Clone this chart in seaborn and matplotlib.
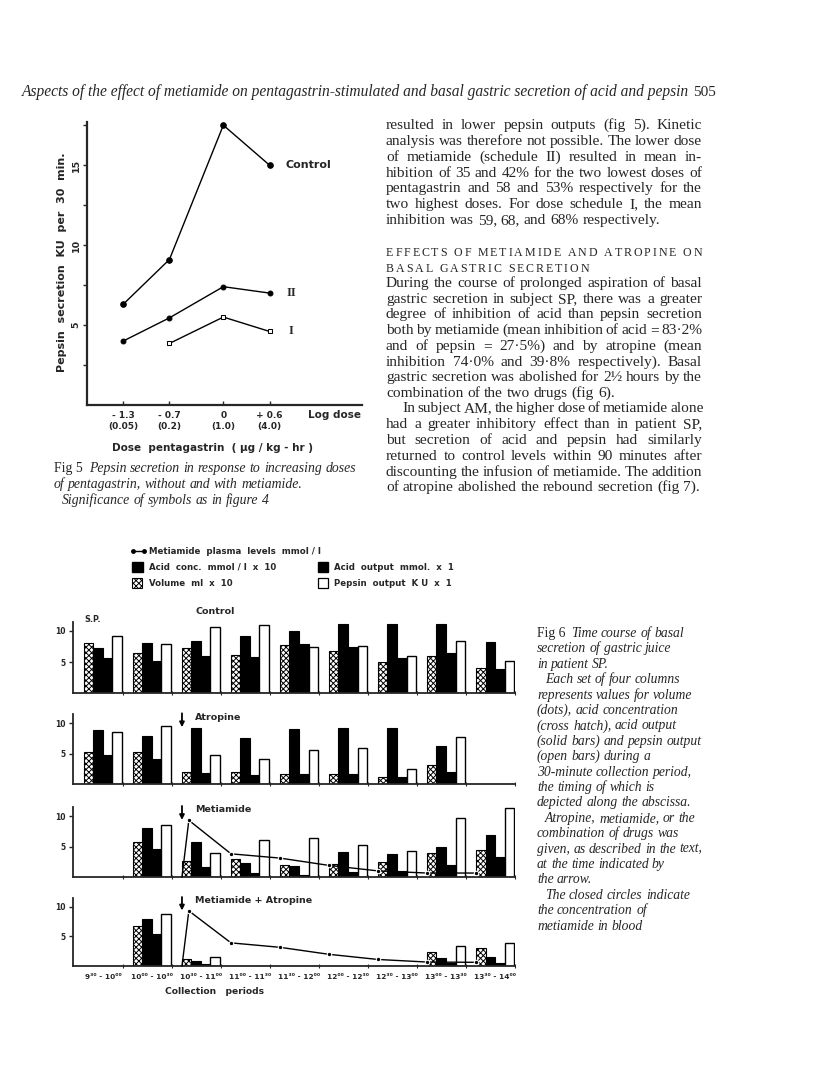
import numpy as np
import matplotlib
matplotlib.use("Agg")
import matplotlib.pyplot as plt
import seaborn as sns
from matplotlib.patches import Rectangle

sns.set_style("ticks")
plt.rcParams["font.family"] = ["DejaVu Sans"]
plt.rcParams["hatch.linewidth"] = 0.7

# ---------------- Fig 5 data ----------------
log_dose = [-1.3, -0.7, 0.0, 0.6]
dose_labels = ["- 1.3\n(0.05)", "- 0.7\n(0.2)", "0\n(1.0)", "+ 0.6\n(4.0)"]
pepsin_control = [6.3, 9.1, 17.5, 15.0]
pepsin_II = [4.0, 5.45, 7.4, 7.0]
log_dose_I = [-0.7, 0.0, 0.6]
pepsin_I = [3.85, 5.5, 4.6]

# ---------------- Fig 6 data ----------------
periods = ["9³⁰ - 10⁰⁰", "10⁰⁰ - 10³⁰", "10³⁰ - 11⁰⁰", "11⁰⁰ - 11³⁰", "11³⁰ - 12⁰⁰",
           "12⁰⁰ - 12³⁰", "12³⁰ - 13⁰⁰", "13⁰⁰ - 13³⁰", "13³⁰ - 14⁰⁰"]
period_start = [9.5, 10.0, 10.5, 11.0, 11.5, 12.0, 12.5, 13.0, 13.5]
nan = np.nan

ctrl_volume = [8.0, 6.4, 7.2, 6.1, 7.8, 6.8, 5.0, 5.9, 4.1]
ctrl_acid_conc = [7.2, 8.1, 8.4, 9.2, 10.05, 11.2, 11.1, 11.1, 8.3]
ctrl_acid_out = [5.7, 5.2, 6.0, 5.8, 7.9, 7.5, 5.6, 6.5, 3.85]
ctrl_pepsin = [9.25, 7.9, 10.6, 10.9, 7.4, 7.6, 5.9, 8.4, 5.1]

atr_volume = [5.2, 5.3, 1.9, 1.9, 1.65, 1.65, 1.1, 3.1, nan]
atr_acid_conc = [8.9, 7.9, 9.3, 7.5, 9.1, 9.2, 9.2, 6.3, nan]
atr_acid_out = [4.8, 4.2, 1.8, 1.5, 1.6, 1.65, 1.1, 1.9, nan]
atr_pepsin = [8.5, 9.6, 4.8, 4.1, 5.6, 6.0, 2.5, 7.7, nan]

met_volume = [nan, 5.7, 2.7, 2.9, 2.0, 2.1, 2.5, 4.0, 4.5]
met_acid_conc = [nan, 8.0, 5.7, 2.35, 1.8, 4.1, 3.7, 4.9, 6.9]
met_acid_out = [nan, 4.6, 1.6, 0.7, 0.4, 0.9, 1.0, 1.9, 3.2]
met_pepsin = [nan, 8.5, 3.9, 6.0, 6.4, 5.2, 4.3, 9.7, 11.3]

ma_volume = [nan, 6.8, 1.1, 0, 0, 0, 0, 2.4, 3.0]
ma_acid_conc = [nan, 8.0, 0.9, 0, 0, 0, 0, 1.3, 1.45]
ma_acid_out = [nan, 5.4, 0.35, 0, 0, 0, 0, 0.45, 0.45]
ma_pepsin = [nan, 8.7, 1.45, 0, 0, 0, 0, 3.4, 3.9]

plasma_time = [10.5, 10.57, 11.0, 11.5, 12.0, 12.5, 13.0, 13.5]
met_plasma = [0.0, 9.3, 3.8, 3.1, 1.9, 1.0, 0.65, 0.65]
ma_plasma = [0.0, 9.3, 3.9, 3.15, 1.97, 1.1, 0.67, 0.62]

# ---------------- figure ----------------
W, H = 816, 1086
fig = plt.figure(figsize=(W / 100, H / 100), dpi=100)
fig.patch.set_facecolor("white")

ov = fig.add_axes([0, 0, 1, 1])
ov.set_xlim(0, W)
ov.set_ylim(H, 0)
ov.axis("off")


def px_axes(x0, y0, x1, y1):
    a = fig.add_axes([x0 / W, 1 - y1 / H, (x1 - x0) / W, (y1 - y0) / H])
    a.set_facecolor("none")
    return a


renderer = fig.canvas.get_renderer()
SERIF = ["Liberation Serif", "DejaVu Serif"]
SANS = ["DejaVu Sans"]


def width_of(s, **kw):
    t = ov.text(0, 0, s, **kw)
    w = t.get_window_extent(renderer).width
    t.remove()
    return w


def place_line(text, x0, x1, yb, justify=True, **kw):
    words = text.split()
    arts = [ov.text(0, yb, w_, ha="left", va="baseline", **kw) for w_ in words]
    widths = [a.get_window_extent(renderer).width for a in arts]
    sp = width_of("n n", **kw) - width_of("nn", **kw)
    if justify and len(words) > 1:
        gap = max((x1 - x0 - sum(widths)) / (len(words) - 1), sp * 0.6)
    else:
        gap = sp
    x = x0
    for a, w_ in zip(arts, widths):
        a.set_x(x)
        x += w_ + gap


def place_tracked(text, x0, yb, tracking, **kw):
    x = x0
    sp = width_of("N N", **kw) - width_of("NN", **kw)
    for ch in text:
        if ch == " ":
            x += sp + tracking
            continue
        t = ov.text(x, yb, ch, ha="left", va="baseline", **kw)
        x += t.get_window_extent(renderer).width + tracking


# ---------------- header ----------------
hdr_kw = dict(fontsize=11.2, family=SERIF, style="italic")
hdr = "Aspects of the effect of metiamide on pentagastrin-stimulated and basal gastric secretion of acid and pepsin"
wh = width_of(hdr, **hdr_kw)
scale = (688 - 22) / wh
hdr_kw["fontsize"] = 11.2 * scale
ov.text(22, 96, hdr, ha="left", va="baseline", **hdr_kw)
ov.text(693, 96, "505", ha="left", va="baseline", fontsize=11, family=SERIF)

# ---------------- Fig 5 ----------------
ax5 = px_axes(87, 122, 362, 405)
ax5.set_xlim(-1.77, 1.8)
ax5.set_ylim(0, 17.7)
sns.lineplot(x=log_dose, y=pepsin_control, ax=ax5, color="black", lw=1.0,
             marker="o", markersize=4, markeredgecolor="black", markerfacecolor="black")
sns.lineplot(x=log_dose, y=pepsin_II, ax=ax5, color="black", lw=1.0,
             marker="o", markersize=3.5, markeredgecolor="black", markerfacecolor="black")
sns.lineplot(x=log_dose_I, y=pepsin_I, ax=ax5, color="black", lw=1.0,
             marker="s", markersize=3.5, markeredgecolor="black", markerfacecolor="white")
for s in ["top", "right"]:
    ax5.spines[s].set_visible(False)
for s in ["left", "bottom"]:
    ax5.spines[s].set_linewidth(1.6)
yt = np.arange(2.5, 17.6, 2.5)
ax5.set_yticks(yt)
ax5.set_yticklabels([f"{v:g}" if v % 5 == 0 else "" for v in yt],
                    rotation=90, va="center", fontsize=6.8, fontweight="bold")
ax5.set_xticks(log_dose)
ax5.set_xticklabels(dose_labels, fontsize=6.5, fontweight="bold", linespacing=1.4)
ax5.tick_params(axis="both", length=3, width=1, pad=1.5)
ax5.tick_params(axis="x", direction="in", pad=4)
ov.text(308, 415, "Log dose", ha="left", va="center", fontsize=7.5, fontweight="bold")
ov.text(213, 448, "Dose  pentagastrin  ( μg / kg - hr )", ha="center", va="center",
        fontsize=7.5, fontweight="bold")
ov.text(62, 262, "Pepsin  secretion  KU  per  30  min.", ha="center", va="center",
        rotation=90, fontsize=8.0, fontweight="bold")
ov.text(285, 165, "Control", ha="left", va="center", fontsize=8, fontweight="bold")
ov.text(287, 293, "II", ha="left", va="center", fontsize=9, fontweight="bold", family=SERIF)
ov.text(289, 331, "I", ha="left", va="center", fontsize=9, fontweight="bold", family=SERIF)

cap_kw = dict(fontsize=9.9, family=SERIF, style="italic")
ov.text(54, 472, "Fig 5", ha="left", va="baseline", fontsize=9.9, family=SERIF)
place_line("Pepsin secretion in response to increasing doses", 89, 356, 472, justify=False, **cap_kw)
place_line("of pentagastrin, without and with metiamide.", 54, 356, 488, justify=False, **cap_kw)
place_line("Significance of symbols as in figure 4", 62, 356, 504, justify=False, **cap_kw)

# ---------------- right column text ----------------
body_kw = dict(fontsize=11.1, family=SERIF)
X0, X1 = 386, 702
para1 = ["resulted in lower pepsin outputs (fig 5). Kinetic",
         "analysis was therefore not possible. The lower dose",
         "of metiamide (schedule II) resulted in mean in-",
         "hibition of 35 and 42% for the two lowest doses of",
         "pentagastrin and 58 and 53% respectively for the",
         "two highest doses. For dose schedule I, the mean",
         "inhibition was 59, 68, and 68% respectively."]
y1 = [125, 141, 156.7, 172.7, 188, 204, 220]
for i, (ln, yc) in enumerate(zip(para1, y1)):
    place_line(ln, X0, X1, yc + 4, justify=(i < len(para1) - 1), **body_kw)

head_kw = dict(fontsize=8.6, family=SERIF)
h1 = "EFFECTS OF METIAMIDE AND ATROPINE ON"
nat = sum(width_of(c, **head_kw) for c in h1.replace(" ", ""))
sp = width_of("N N", **head_kw) - width_of("NN", **head_kw)
nat += sp * h1.count(" ")
track = (X1 - X0 - nat) / (len(h1) - 1)
place_tracked(h1, X0, 256.5, track, **head_kw)
place_tracked("BASAL GASTRIC SECRETION", X0, 272, track, **head_kw)

para2 = ["During the course of prolonged aspiration of basal",
         "gastric secretion in subject SP, there was a greater",
         "degree of inhibition of acid than pepsin secretion",
         "both by metiamide (mean inhibition of acid = 83·2%",
         "and of pepsin = 27·5%) and by atropine (mean",
         "inhibition 74·0% and 39·8% respectively). Basal",
         "gastric secretion was abolished for 2½ hours by the",
         "combination of the two drugs (fig 6)."]
y2 = [283, 299, 314, 330, 346, 361.7, 377, 393]
for i, (ln, yc) in enumerate(zip(para2, y2)):
    place_line(ln, X0, X1, yc + 4, justify=(i < len(para2) - 1), **body_kw)

para3 = ["In subject AM, the higher dose of metiamide alone",
         "had a greater inhibitory effect than in patient SP,",
         "but secretion of acid and pepsin had similarly",
         "returned to control levels within 90 minutes after",
         "discounting the infusion of metiamide. The addition",
         "of atropine abolished the rebound secretion (fig 7)."]
y3 = [408, 424, 440, 456, 471.7, 487]
for i, (ln, yc) in enumerate(zip(para3, y3)):
    place_line(ln, X0 + (16 if i == 0 else 0), X1, yc + 4,
               justify=(i < len(para3) - 1), **body_kw)

# ---------------- Fig 6 legend ----------------
lg_kw = dict(fontsize=6.2, fontweight="bold", family=SANS)
ov.plot([133, 144], [551, 551], color="black", lw=1.0)
ov.plot([133, 144], [551, 551], ls="none", marker="o", ms=2.5, color="black")
ov.text(149, 551, "Metiamide  plasma  levels  mmol / l", ha="left", va="center", **lg_kw)
ov.add_patch(Rectangle((132, 562), 11, 10, facecolor="black", edgecolor="black"))
ov.text(149, 567, "Acid  conc.  mmol / l  x  10", ha="left", va="center", **lg_kw)
ov.add_patch(Rectangle((318, 562), 10, 10, facecolor="black", edgecolor="black"))
ov.text(334, 567, "Acid  output  mmol.  x  1", ha="left", va="center", **lg_kw)
ov.add_patch(Rectangle((132, 578), 10, 10, facecolor="white", edgecolor="black",
                       hatch="xxxxxx", lw=0.8))
ov.text(149, 583, "Volume  ml  x  10", ha="left", va="center", **lg_kw)
ov.add_patch(Rectangle((318, 578), 10, 10, facecolor="white", edgecolor="black", lw=0.9))
ov.text(334, 583, "Pepsin  output  K U  x  1", ha="left", va="center", **lg_kw)

# ---------------- Fig 6 panels ----------------
T0, T1 = 9.385, 13.898
XL, XR = 72.7, 515
bw = 0.097
offs = [0.0485 + k * bw for k in range(4)]
styles = [dict(facecolor="white", edgecolor="black", hatch="xxxxxx", lw=0.8),
          dict(facecolor="black", edgecolor="black", lw=0.8),
          dict(facecolor="black", edgecolor="black", lw=0.8),
          dict(facecolor="white", edgecolor="black", lw=1.0)]

panels = [
    (693, 6.2, [ctrl_volume, ctrl_acid_conc, ctrl_acid_out, ctrl_pepsin], None, None),
    (784, 6.07, [atr_volume, atr_acid_conc, atr_acid_out, atr_pepsin], "Atropine", None),
    (877, 6.1, [met_volume, met_acid_conc, met_acid_out, met_pepsin], "Metiamide", met_plasma),
    (966, 5.93, [ma_volume, ma_acid_conc, ma_acid_out, ma_pepsin], "Metiamide + Atropine", ma_plasma),
]
YTOP = 11.5
starts = np.array(period_start)
for pi, (base, ppu, series, label, plasma) in enumerate(panels):
    ax = px_axes(XL, base - YTOP * ppu, XR, base)
    ax.set_xlim(T0, T1)
    ax.set_ylim(0, YTOP)
    for k, vals in enumerate(series):
        ax.bar(starts + offs[k], vals, width=bw, align="center", zorder=2, **styles[k])
    if plasma is not None:
        sns.lineplot(x=plasma_time, y=plasma, ax=ax, color="black", lw=1.0,
                     marker="o", markersize=3.2, markevery=list(range(1, len(plasma_time))),
                     zorder=4, clip_on=False)
    for s in ["top", "right"]:
        ax.spines[s].set_visible(False)
    for s in ["left", "bottom"]:
        ax.spines[s].set_linewidth(1.3)
    ax.set_yticks([5, 10])
    ax.set_yticklabels(["5", "10"], fontsize=5.5, fontweight="bold")
    ax.tick_params(axis="y", length=3, width=1, pad=2)
    ax.set_xticks(starts + 0.194)
    if pi == 3:
        ax.set_xticklabels(periods, fontsize=5.3, fontweight="bold")
        ax.tick_params(axis="x", length=0, pad=6)
    else:
        ax.set_xticklabels([])
        ax.tick_params(axis="x", length=0)
    ax.set_xticks(starts + 0.395, minor=True)
    ax.tick_params(axis="x", which="minor", length=2.5, width=0.8, direction="inout")
    if label is not None:
        ax.annotate("", xy=(10.5, 8.9), xytext=(10.5, 12.1),
                    arrowprops=dict(arrowstyle="-|>", lw=1.3, color="black", mutation_scale=7),
                    annotation_clip=False)
        ax.text(10.63, 11.0, label, ha="left", va="center", fontsize=6.8, fontweight="bold",
                clip_on=False)

ov.text(84, 619, "S.P.", ha="left", va="center", fontsize=5.8, fontweight="bold")
ov.text(195, 612, "Control", ha="left", va="center", fontsize=6.8, fontweight="bold")
ov.text(165, 991, "Collection   periods", ha="left", va="center", fontsize=6.6, fontweight="bold")

# ---------------- Fig 6 caption ----------------
cap6 = ["Time course of basal",
        "secretion of gastric juice",
        "in patient SP.",
        "Each set of four columns",
        "represents values for volume",
        "(dots), acid concentration",
        "(cross hatch), acid output",
        "(solid bars) and pepsin output",
        "(open bars) during a",
        "30-minute collection period,",
        "the timing of which is",
        "depicted along the abscissa.",
        "Atropine, metiamide, or the",
        "combination of drugs was",
        "given, as described in the text,",
        "at the time indicated by",
        "the arrow.",
        "The closed circles indicate",
        "the concentration of",
        "metiamide in blood"]
indent = {3, 12, 17}
c6_kw = dict(fontsize=9.8, family=SERIF, style="italic")
for i, ln in enumerate(cap6):
    yb = 633 + 15.4 * i + 4
    if i == 0:
        ov.text(537, yb, "Fig 6", ha="left", va="baseline", fontsize=9.8, family=SERIF)
        place_line(ln, 571, 710, yb, justify=False, **c6_kw)
    else:
        place_line(ln, 537 + (8 if i in indent else 0), 710, yb, justify=False, **c6_kw)

fig.savefig("out.png", dpi=100, facecolor="white")
